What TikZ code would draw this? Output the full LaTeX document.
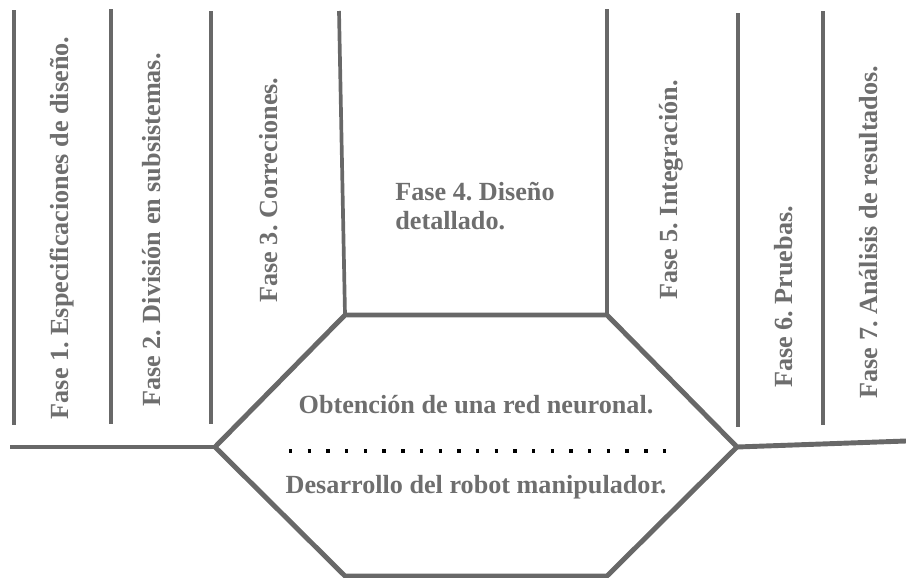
\documentclass[tikz,border=0pt]{standalone}
\usepackage{fontspec}
\setmainfont{Liberation Serif}
\frenchspacing
\definecolor{linegray}{RGB}{104,104,104}
\definecolor{textgray}{RGB}{110,110,110}

\tikzset{
	fase/.style={text=textgray, font=\bfseries\fontsize{14.9}{17}\selectfont, inner sep=0pt},
	fasev/.style={fase, rotate=90, anchor=base},
	bar/.style={draw=linegray, line width=2.1pt},
	hexline/.style={draw=linegray, line width=2.8pt, line join=miter},
}

\begin{document}
\begin{tikzpicture}[x=0.02cm, y=-0.02cm]
	\useasboundingbox (0,0) rectangle (906,578);
	% hexagon corners
	\coordinate (hl) at (215,447);
	\coordinate (htl) at (345,315);
	\coordinate (htr) at (607,315);
	\coordinate (hr) at (737,447);
	\coordinate (hbr) at (607,576);
	\coordinate (hbl) at (345,576);
	\coordinate (lend) at (10,447);
	\coordinate (rend) at (906,441);
	% bars between phases
	\draw[bar] (14,10) -- (14,425);
	\draw[bar] (111,9) -- (111,424);
	\draw[bar] (211,11) -- (211,424);
	\draw[bar] (339,11) -- (htl);
	\draw[bar] (607,9) -- (htr);
	\draw[bar] (738,13) -- (738,427);
	\draw[bar] (823,11) -- (823,425);
	\draw[hexline] (hl) -- (htl) -- (htr) -- (hr) -- (hbr) -- (hbl) -- cycle;
	\draw[hexline] (lend) -- (hl);
	\draw[hexline] (hr) -- (rend);
	% phases
	\node[fasev] (f1) at (68,228) {Fase 1. Especificaciones de diseño.};
	\node[fasev] (f2) at (160,230) {Fase 2. División en subsistemas.};
	\node[fasev] (f3) at (277,190) {Fase 3. Correciones.};
	\node[fase, anchor=west, align=left] (f4) at (395,206) {Fase 4. Diseño\\detallado.};
	\node[fasev] (f5) at (677,190) {Fase 5. Integración.};
	\node[fasev] (f6) at (792,297) {Fase 6. Pruebas.};
	\node[fasev] (f7) at (877,232) {Fase 7. Análisis de resultados.};
	% centre
	\node[fase, anchor=base] (red) at (476,413) {Obtención de una red neuronal.};
	\node[fase, anchor=base] (robot) at (476,493) {Desarrollo del robot manipulador.};
	\coordinate (dl) at (289,451);
	\coordinate (dr) at (666,451);
	\draw[line width=1.9pt, dash pattern=on 1.9pt off 8.74pt] (dl) -- (dr);
\end{tikzpicture}
\end{document}
